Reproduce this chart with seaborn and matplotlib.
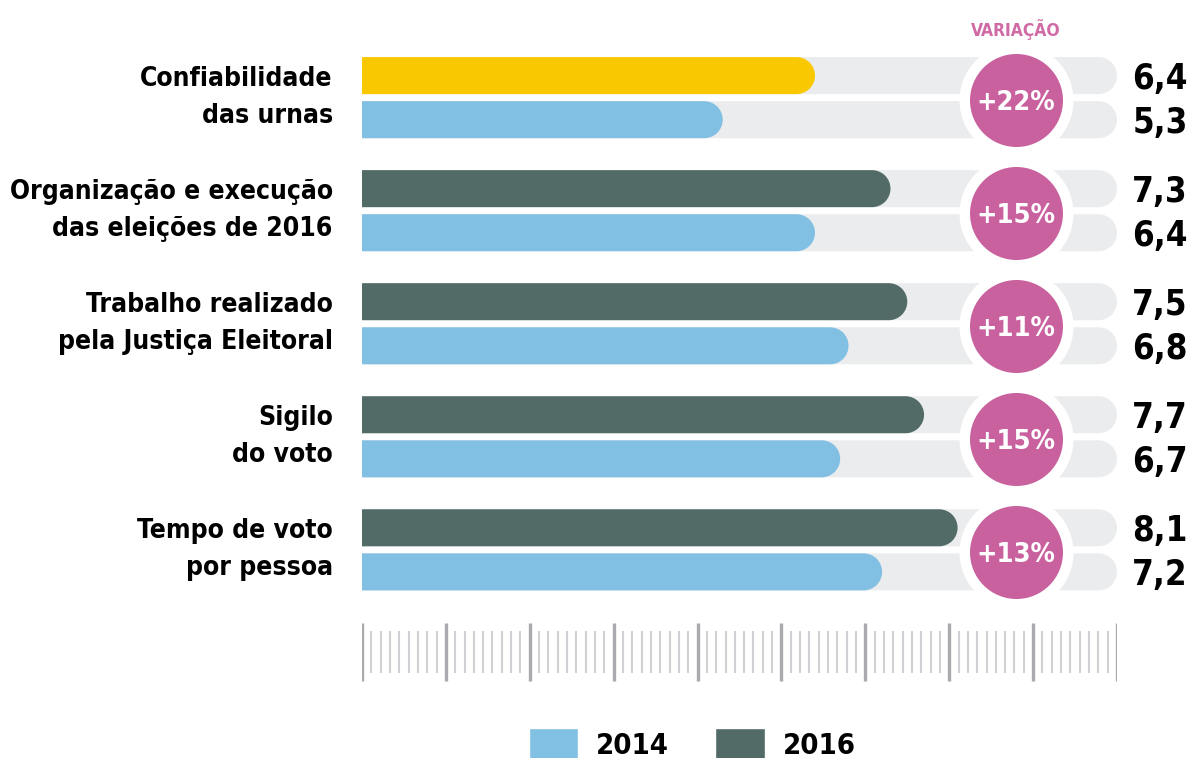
import numpy as np
import pandas as pd
import matplotlib
matplotlib.use("Agg")
import matplotlib.pyplot as plt
import seaborn as sns
from matplotlib.path import Path
from matplotlib.patches import PathPatch, Patch

# Data
categories = ["Confiabilidade\ndas urnas",
              "Organização e execução\ndas eleições de 2016",
              "Trabalho realizado\npela Justiça Eleitoral",
              "Sigilo\ndo voto",
              "Tempo de voto\npor pessoa"]
values_2016 = [6.4, 7.3, 7.5, 7.7, 8.1]
values_2014 = [5.3, 6.4, 6.8, 6.7, 7.2]
variation = ["+22%", "+15%", "+11%", "+15%", "+13%"]
labels_2016 = ["6,4", "7,3", "7,5", "7,7", "8,1"]
labels_2014 = ["5,3", "6,4", "6,8", "6,7", "7,2"]
years = ["2016", "2014"]

# Colours
BLUE = "#82c0e3"
DARK = "#526b67"
YELLOW = "#f9c800"
GREY_BG = "#ebecee"
PINK = "#c9619f"
PINK_TXT = "#d06aa5"
TICK_MAJOR = "#aaaaae"
TICK_MINOR = "#d0d1d5"

sns.set_theme(style="white")
plt.rcParams['font.family'] = ['DejaVu Sans']
plt.rcParams['font.stretch'] = 'condensed'
plt.rcParams['font.weight'] = 'bold'
plt.rcParams['text.color'] = 'black'

W, H = 1197, 758
fig = plt.figure(figsize=(W / 100, H / 100), dpi=100)
ax_left, ax_right, ax_top, ax_bot = 362, 1117, 40, 690
ax = fig.add_axes([ax_left / W, 1 - ax_bot / H, (ax_right - ax_left) / W, (ax_bot - ax_top) / H])

XMIN, XMAX = 1, 10
YTOP, YBOT = -0.51, 5.24

df = pd.DataFrame({
    "category": categories * 2,
    "year": ["2016"] * 5 + ["2014"] * 5,
    "value": values_2016 + values_2014,
})
df_bg = df.assign(value=float(XMAX))

# grey track bars, then the actual values
sns.barplot(data=df_bg, x="value", y="category", hue="year", hue_order=years,
            palette=[GREY_BG, GREY_BG], orient="h", width=0.78, gap=0.16,
            legend=False, ax=ax, saturation=1)
n_bg = len(ax.patches)
sns.barplot(data=df, x="value", y="category", hue="year", hue_order=years,
            palette=[DARK, BLUE], orient="h", width=0.78, gap=0.16,
            legend=False, ax=ax, saturation=1)

ax.set_xlim(XMIN, XMAX)
ax.set_ylim(YBOT, YTOP)

# pixel scales so the bar ends become true half circles
xs = (ax_right - ax_left) / (XMAX - XMIN)
ys = (ax_bot - ax_top) / (YBOT - YTOP)


def rounded_bar(x0, y0, w, h, color, z):
    ry = h / 2
    rx = ry * ys / xs
    yc = y0 + ry
    arc = Path.arc(-90, 90)
    av = arc.vertices * [rx, ry] + [x0 + w - rx, yc]
    verts = [(x0, y0), (x0 + w - rx, y0)] + [tuple(v) for v in av[1:]] + [(x0, y0 + h), (x0, y0)]
    codes = [Path.MOVETO, Path.LINETO] + list(arc.codes[1:]) + [Path.LINETO, Path.CLOSEPOLY]
    ax.add_patch(PathPatch(Path(verts, codes), facecolor=color, edgecolor="none", zorder=z))


rects = list(ax.patches)
for i, p in enumerate(rects):
    x0, y0, w, h = p.get_x(), p.get_y(), p.get_width(), p.get_height()
    fc = p.get_facecolor()
    p.remove()
    if i < n_bg:
        rounded_bar(x0, y0, w, h, GREY_BG, 1)
    else:
        yc = y0 + h / 2
        if round(yc) == 0 and yc < 0:
            fc = YELLOW
        rounded_bar(x0, y0, w, h, fc, 2)

# variation circles
cx = XMAX - (1117 - 1016) / xs
pos = np.arange(len(categories))
ax.scatter([cx] * len(pos), pos + 0.02, s=(114 * 0.72) ** 2, color="white", zorder=3, linewidths=0)
ax.scatter([cx] * len(pos), pos + 0.02, s=(93 * 0.72) ** 2, color=PINK, zorder=4, linewidths=0)
for i, v in enumerate(variation):
    ax.text(cx, i + 0.02, v, color="white", fontsize=19.5, ha="center", va="center_baseline",
            zorder=5, fontweight="bold")
ax.text(cx, YTOP - 0.09, "VARIAÇÃO", color=PINK_TXT, fontsize=12.5, ha="center",
        va="center", fontweight="bold", clip_on=False)

# value labels at the right
for i in range(len(categories)):
    ax.annotate(labels_2016[i], xy=(XMAX, i - 0.195), xytext=(51, 0), textcoords="offset points",
                ha="right", va="center_baseline", fontsize=25, fontweight="bold", color="black",
                annotation_clip=False)
    ax.annotate(labels_2014[i], xy=(XMAX, i + 0.195), xytext=(51, 0), textcoords="offset points",
                ha="right", va="center_baseline", fontsize=25, fontweight="bold", color="black",
                annotation_clip=False)

# ruler ticks at the bottom
majors = np.arange(XMIN, XMAX + 1)
minors = [m + k / 9 for m in majors[:-1] for k in range(1, 9)]
ax.vlines(minors, 4.72, 5.09, color=TICK_MINOR, linewidth=1.5, zorder=1)
ax.vlines(majors, 4.65, 5.16, color=TICK_MAJOR, linewidth=2.4, zorder=1)

# category labels, right aligned left of the bars
ax.set_yticks([])
for i, cat in enumerate(categories):
    ax.annotate(cat, xy=(XMIN, i), xytext=(-21, 0), textcoords="offset points",
                ha="right", va="center", multialignment="right", fontsize=19,
                fontweight="bold", color="black", linespacing=1.55, annotation_clip=False)
ax.set_xticks([])
ax.set_xlabel("")
ax.set_ylabel("")
for s in ax.spines.values():
    s.set_visible(False)
ax.patch.set_alpha(0)

# legend
handles = [Patch(facecolor=BLUE, label="2014"), Patch(facecolor=DARK, label="2016")]
leg = fig.legend(handles=handles, loc="center", bbox_to_anchor=(692 / W, 1 - 744 / H), ncol=2,
                 frameon=False, handlelength=1.7, handleheight=1.25, handletextpad=0.6,
                 columnspacing=1.6, borderpad=0, prop={"weight": "bold", "size": 21})
for t in leg.get_texts():
    t.set_color("black")

fig.savefig("out.png", dpi=100)
